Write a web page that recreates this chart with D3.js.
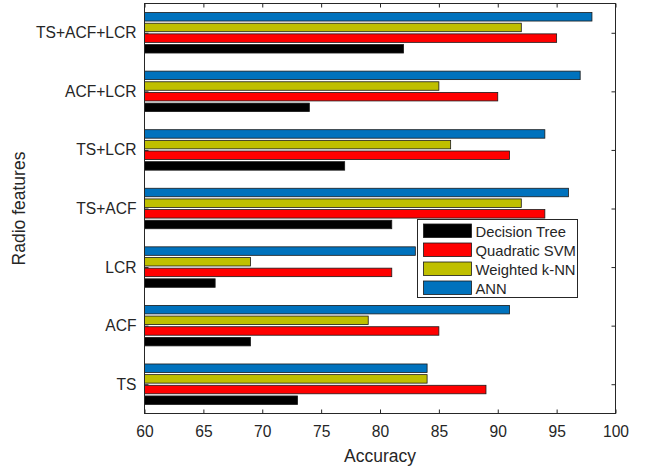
<!DOCTYPE html>
<html>
<head>
<meta charset="utf-8">
<script src="https://cdn.jsdelivr.net/npm/d3@7"></script>
<style>
  html, body { margin: 0; padding: 0; background: #fff; }
  svg { display: block; font-family: "Liberation Sans", Arial, Helvetica, sans-serif; }
</style>
</head>
<body>
<svg id="chart" width="646" height="469"></svg>
<script>
// Feature sets (bottom to top) and classifier accuracies (%)
const categories = ["TS", "ACF", "LCR", "TS+ACF", "TS+LCR", "ACF+LCR", "TS+ACF+LCR"];
const seriesNames = ["Decision Tree", "Quadratic SVM", "Weighted k-NN", "ANN"];
const decisionTree = [73, 69, 66, 81, 77, 74, 82];
const quadraticSVM = [89, 85, 81, 94, 91, 90, 95];
const weightedKNN  = [84, 79, 69, 92, 86, 85, 92];
const ann          = [84, 91, 83, 96, 94, 97, 98];
const xTicks = [60, 65, 70, 75, 80, 85, 90, 95, 100];
const colors = ["#000000", "#FF0000", "#BFBF00", "#0072BD"];

const seriesValues = [decisionTree, quadraticSVM, weightedKNN, ann];

const svg = d3.select("#chart");
const plotL = 144.5, plotR = 615.5, plotT = 3.5, plotB = 413.5;
const axisColor = "#262626";
const tickFont = "15.6px";

const x = d3.scaleLinear().domain([60, 100]).range([plotL, plotR]);
const y = d3.scaleLinear().domain([0.5, categories.length + 0.5]).range([plotB, plotT]);

// grouped bar geometry in category units
const pitch = 0.182, barH = 0.145;

const bars = svg.append("g");
seriesValues.forEach((vals, s) => {
  bars.selectAll(null)
    .data(vals)
    .enter()
    .append("rect")
    .attr("x", x(60))
    .attr("y", (d, i) => y(i + 1 + (s - 1.5) * pitch + barH / 2))
    .attr("width", d => x(d) - x(60))
    .attr("height", (d, i) => y(i + 1 + (s - 1.5) * pitch - barH / 2) - y(i + 1 + (s - 1.5) * pitch + barH / 2))
    .attr("fill", colors[s])
    .attr("stroke", "#1a1a1a")
    .attr("stroke-width", 0.8);
});

// bottom axis with inward ticks, plus mirrored top ticks
const xAxis = d3.axisBottom(x).tickValues(xTicks).tickSizeInner(-4).tickSizeOuter(0).tickPadding(12);
const gx = svg.append("g").attr("transform", `translate(0,${plotB})`).call(xAxis);
gx.select(".domain").remove();
gx.selectAll("line").attr("stroke", axisColor);
gx.selectAll("text").attr("fill", axisColor).style("font-size", tickFont).style("font-family", "'Liberation Sans', Arial, sans-serif");

const gxTop = svg.append("g").attr("transform", `translate(0,${plotT})`)
  .call(d3.axisTop(x).tickValues(xTicks).tickSizeInner(-4).tickSizeOuter(0).tickFormat(""));
gxTop.select(".domain").remove();
gxTop.selectAll("line").attr("stroke", axisColor);

// left axis with category labels, mirrored ticks on the right
const catTicks = categories.map((c, i) => i + 1);
const yAxis = d3.axisLeft(y).tickValues(catTicks).tickFormat((d) => categories[d - 1])
  .tickSizeInner(-4).tickSizeOuter(0).tickPadding(8);
const gy = svg.append("g").attr("transform", `translate(${plotL},0)`).call(yAxis);
gy.select(".domain").remove();
gy.selectAll("line").attr("stroke", axisColor);
gy.selectAll("text").attr("fill", axisColor).style("font-size", tickFont).style("font-family", "'Liberation Sans', Arial, sans-serif");

const gyR = svg.append("g").attr("transform", `translate(${plotR},0)`)
  .call(d3.axisRight(y).tickValues(catTicks).tickSizeInner(-4).tickSizeOuter(0).tickFormat(""));
gyR.select(".domain").remove();
gyR.selectAll("line").attr("stroke", axisColor);

// plot box
svg.append("rect")
  .attr("x", plotL).attr("y", plotT)
  .attr("width", plotR - plotL).attr("height", plotB - plotT)
  .attr("fill", "none").attr("stroke", axisColor).attr("stroke-width", 1);

// axis titles
svg.append("text")
  .attr("x", (plotL + plotR) / 2).attr("y", 462)
  .attr("text-anchor", "middle").attr("fill", axisColor)
  .style("font-size", "17.5px")
  .text("Accuracy");

svg.append("text")
  .attr("transform", `translate(25,${(plotT + plotB) / 2}) rotate(-90)`)
  .attr("text-anchor", "middle").attr("fill", axisColor)
  .style("font-size", "17.5px")
  .text("Radio features");

// legend
const lg = svg.append("g").attr("transform", "translate(417.5,219.5)");
lg.append("rect").attr("width", 160).attr("height", 78)
  .attr("fill", "#fff").attr("stroke", axisColor).attr("stroke-width", 1);
seriesNames.forEach((name, s) => {
  const row = lg.append("g").attr("transform", `translate(6,${4.5 + s * 19})`);
  row.append("rect").attr("width", 48).attr("height", 13.5)
    .attr("fill", colors[s]).attr("stroke", "#1a1a1a").attr("stroke-width", 0.8);
  row.append("text").attr("x", 52).attr("y", 12.5)
    .attr("fill", axisColor).style("font-size", "14.8px").text(name);
});
</script>
</body>
</html>
